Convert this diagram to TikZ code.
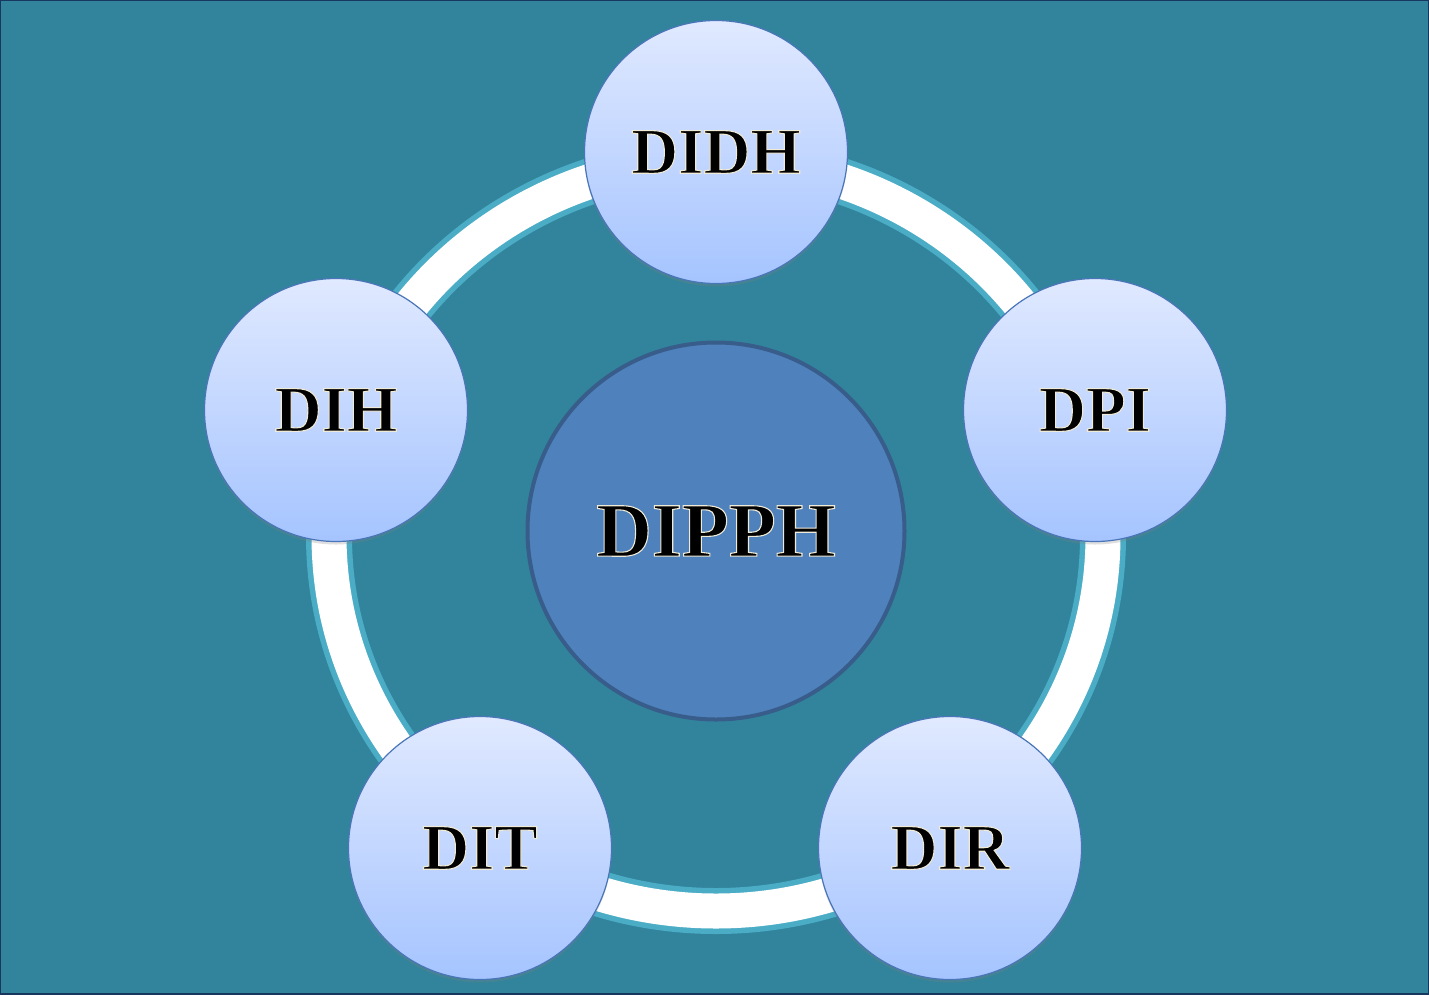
\documentclass[tikz,border=0pt]{standalone}
\usepackage{fontspec}
\setmainfont{Liberation Serif}
\usetikzlibrary{shadows}
\definecolor{bgteal}{HTML}{31849B}
\definecolor{ringedge}{HTML}{4BACC6}
\definecolor{hubfill}{HTML}{4F81BD}
\definecolor{hubedge}{HTML}{385D8A}
\definecolor{sattop}{HTML}{E0E9FF}
\definecolor{satbot}{HTML}{A5C4FF}
\definecolor{satedge}{HTML}{4A76B8}
\definecolor{frameblue}{HTML}{17375E}
\newcommand{\outlinedtext}[1]{\special{pdf:literal 2 Tr 1.1 w 0.94 0.92 0.84 RG}#1\special{pdf:literal 0 Tr}}
\tikzset{
  satellite/.style={circle, inner sep=0pt, minimum size=263pt, draw=satedge, line width=1.2pt,
    top color=sattop, bottom color=satbot,
    drop shadow={opacity=0.25, shadow xshift=0pt, shadow yshift=-3pt},
    font=\fontsize{65}{65}\selectfont\bfseries, text=black},
  hub/.style={circle, inner sep=0pt, minimum size=377pt, draw=hubedge, line width=4pt,
    fill=hubfill, font=\fontsize{77}{77}\selectfont\bfseries, text=black},
}
\begin{document}
\begin{tikzpicture}[x=1pt, y=-1pt]
\useasboundingbox (0,0) rectangle (1429,994);
\fill[bgteal] (0,0) rectangle (1429,994);
\draw[frameblue, line width=2.5pt] (0,0) rectangle (1429,994);
% ring
\coordinate (ringc) at (716,536);
\draw[ringedge, line width=46pt] (ringc) ellipse [x radius=387, y radius=375];
\draw[white, line width=35pt] (ringc) ellipse [x radius=387, y radius=375];
% hub
\node[hub] (hub) at (716,531) {\outlinedtext{DIPPH}};
% satellites
\node[satellite] (didh) at (716,152) {\outlinedtext{DIDH}};
\node[satellite] (dih) at (336,410) {\outlinedtext{DIH}};
\node[satellite] (dpi) at (1095,410) {\outlinedtext{DPI}};
\node[satellite] (dit) at (480,848) {\outlinedtext{DIT}};
\node[satellite] (dir) at (950,848) {\outlinedtext{DIR}};
\end{tikzpicture}
\end{document}
